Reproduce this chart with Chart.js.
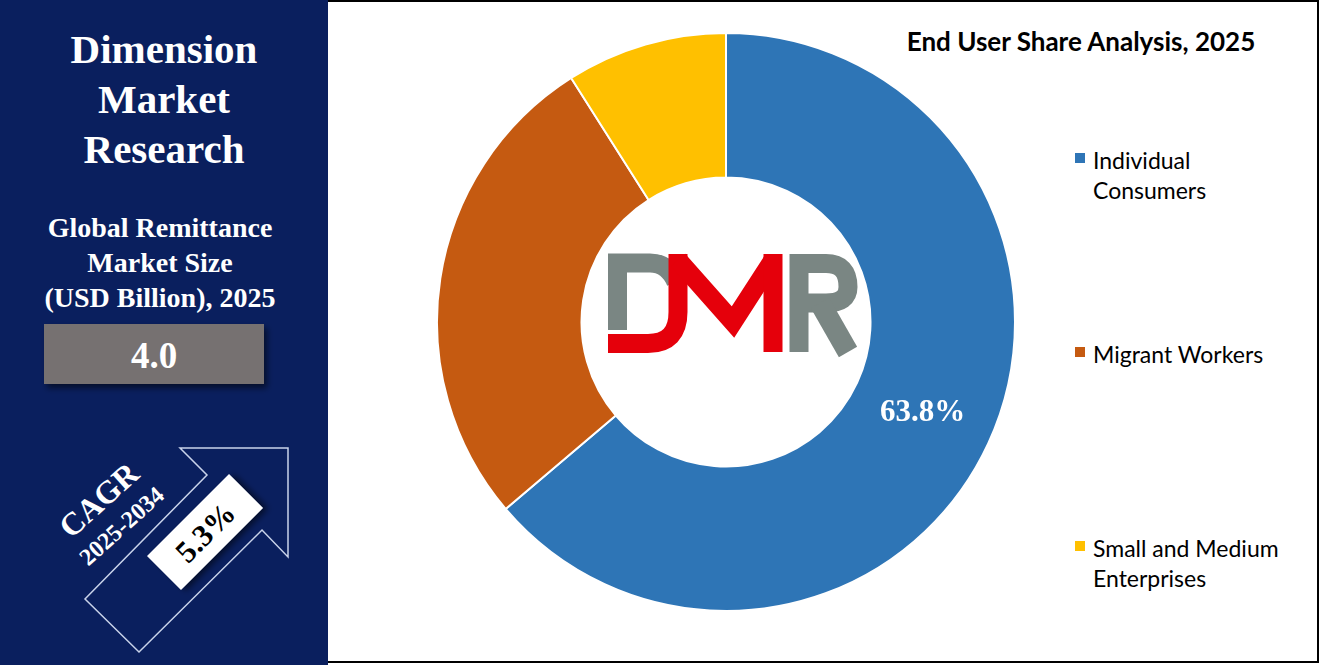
<!DOCTYPE html>
<html>
<head>
<meta charset="utf-8">
<script src="https://cdn.jsdelivr.net/npm/chart.js@4.4.0/dist/chart.umd.min.js"></script>
<style>
  html, body { margin: 0; padding: 0; background: #fff; }
  #page { position: relative; width: 1321px; height: 665px; overflow: hidden; }
  #frame { position: absolute; left: 326px; top: 0; width: 989px; height: 659px; border: 2px solid #000; }
  #side { position: absolute; left: 0; top: 0; width: 328px; height: 665px; }
  #chartBox { position: absolute; left: 436px; top: 32px; width: 580px; height: 580px; }
  #title { position: absolute; left: 860px; top: 25px; width: 442px; text-align: center;
           font: bold 26px Lato, sans-serif; color: #000; }
  .leg { position: absolute; left: 1075px; font: 23px Lato, sans-serif; line-height: 30px; color: #000; }
  .leg i { position: absolute; left: 0; top: 8px; width: 10px; height: 10px; }
  .leg span { display: block; margin-left: 18px; }
  #logo { position: absolute; left: 0; top: 0; }
</style>
</head>
<body>
<div id="page">
  <div id="frame"></div>
  <svg id="side" width="328" height="665" viewBox="0 0 328 665">
    <defs>
      <filter id="sh" x="-20%" y="-20%" width="150%" height="160%">
        <feDropShadow dx="3" dy="4" stdDeviation="3" flood-color="#000" flood-opacity="0.55"/>
      </filter>
    </defs>
    <rect x="0" y="0" width="328" height="665" fill="#0a1f5e"/>
    <g fill="#fff" font-family="'Liberation Serif', 'Times New Roman', serif" font-weight="bold" text-anchor="middle">
      <text x="164" y="63" font-size="41">Dimension</text>
      <text x="164" y="113" font-size="41">Market</text>
      <text x="164" y="163" font-size="41">Research</text>
      <text x="160" y="237" font-size="28">Global Remittance</text>
      <text x="160" y="272" font-size="28">Market Size</text>
      <text x="160" y="307" font-size="28">(USD Billion), 2025</text>
    </g>
    <rect x="44" y="324" width="220" height="60" fill="#767171" filter="url(#sh)"/>
    <text x="154" y="368" fill="#fff" font-family="'Liberation Serif', serif" font-weight="bold" font-size="37" text-anchor="middle">4.0</text>
    <polygon points="180,448 288,448 288,557 262,530 139,652 85,599 207,475" fill="none" stroke="#c9d3ea" stroke-width="1.5"/>
    <g transform="translate(205,532) rotate(-45)">
      <rect x="-58" y="-24" width="116" height="48" fill="#fff" filter="url(#sh)"/>
      <text x="0" y="11" fill="#000" font-family="'Liberation Serif', serif" font-weight="bold" font-size="31" text-anchor="middle">5.3%</text>
    </g>
    <g fill="#fff" font-family="'Liberation Serif', serif" font-weight="bold" text-anchor="middle">
      <text transform="translate(106,508) rotate(-42)" font-size="32">CAGR</text>
      <text transform="translate(127,532) rotate(-42)" font-size="24">2025-2034</text>
    </g>
  </svg>
  <div id="title">End User Share Analysis, 2025</div>
  <div id="legend"></div>
  <div id="chartBox"><canvas id="shareChart"></canvas></div>
  <svg id="logo" width="1321" height="665" style="pointer-events:none">
    <g fill="none" stroke-width="19" stroke-linejoin="miter">
      <path d="M617.5,254 V330" stroke="#7a8683"/>
      <path d="M608,263 H650 Q668,263 676,282" stroke="#7a8683"/>
      <path d="M608,343.5 H648 Q678,343.5 678,312 V254" stroke="#e5000b"/>
      <path d="M678,260 L733,322 L773,260" stroke="#e5000b"/>
      <path d="M773,254 V352" stroke="#e5000b"/>
      <path d="M799,254 V352" stroke="#7a8683"/>
      <path d="M790,263.5 H826 Q848,263.5 848,287 Q848,303 826,303 H808" stroke="#7a8683"/>
      <path d="M820,303 L848,352" stroke="#7a8683" stroke-width="21"/>
    </g>
  </svg>
</div>
<script>
var labels = ['Individual Consumers', 'Migrant Workers', 'Small and Medium Enterprises'];
var legendLines = [['Individual', 'Consumers'], ['Migrant Workers'], ['Small and Medium', 'Enterprises']];
var shares = [63.8, 27.2, 9.0];
var colors = ['#2e75b6', '#c55a11', '#ffc000'];
var legendTops = [145, 339, 533];

// legend built by hand so the labels can wrap like the original
var legendEl = document.getElementById('legend');
for (var i = 0; i < labels.length; i++) {
    var item = document.createElement('div');
    item.className = 'leg';
    item.style.top = legendTops[i] + 'px';
    var box = document.createElement('i');
    box.style.background = colors[i];
    item.appendChild(box);
    for (var j = 0; j < legendLines[i].length; j++) {
        var s = document.createElement('span');
        s.textContent = legendLines[i][j];
        item.appendChild(s);
    }
    legendEl.appendChild(item);
}

// only the largest slice carries a value label
const sliceLabel = {
    id: 'sliceLabel',
    afterDatasetsDraw(chart) {
        const ctx = chart.ctx;
        const arc = chart.getDatasetMeta(0).data[0];
        const p = arc.tooltipPosition();
        ctx.save();
        ctx.fillStyle = '#fff';
        ctx.font = 'bold 31px "Liberation Serif", serif';
        ctx.textAlign = 'center';
        ctx.textBaseline = 'middle';
        ctx.fillText(shares[0].toFixed(1) + '%', p.x, p.y);
        ctx.restore();
    }
};

const config = {
    type: 'doughnut',
    data: {
        labels: labels,
        datasets: [{
            data: shares,
            backgroundColor: colors,
            borderColor: '#fff',
            borderWidth: 2
        }]
    },
    options: {
        responsive: true,
        maintainAspectRatio: false,
        animation: false,
        cutout: '50%',
        plugins: {
            legend: { display: false },
            tooltip: { enabled: false },
            title: { display: false }
        }
    },
    plugins: [sliceLabel]
};

const myChart = new Chart(document.getElementById('shareChart'), config);
</script>
</body>
</html>
